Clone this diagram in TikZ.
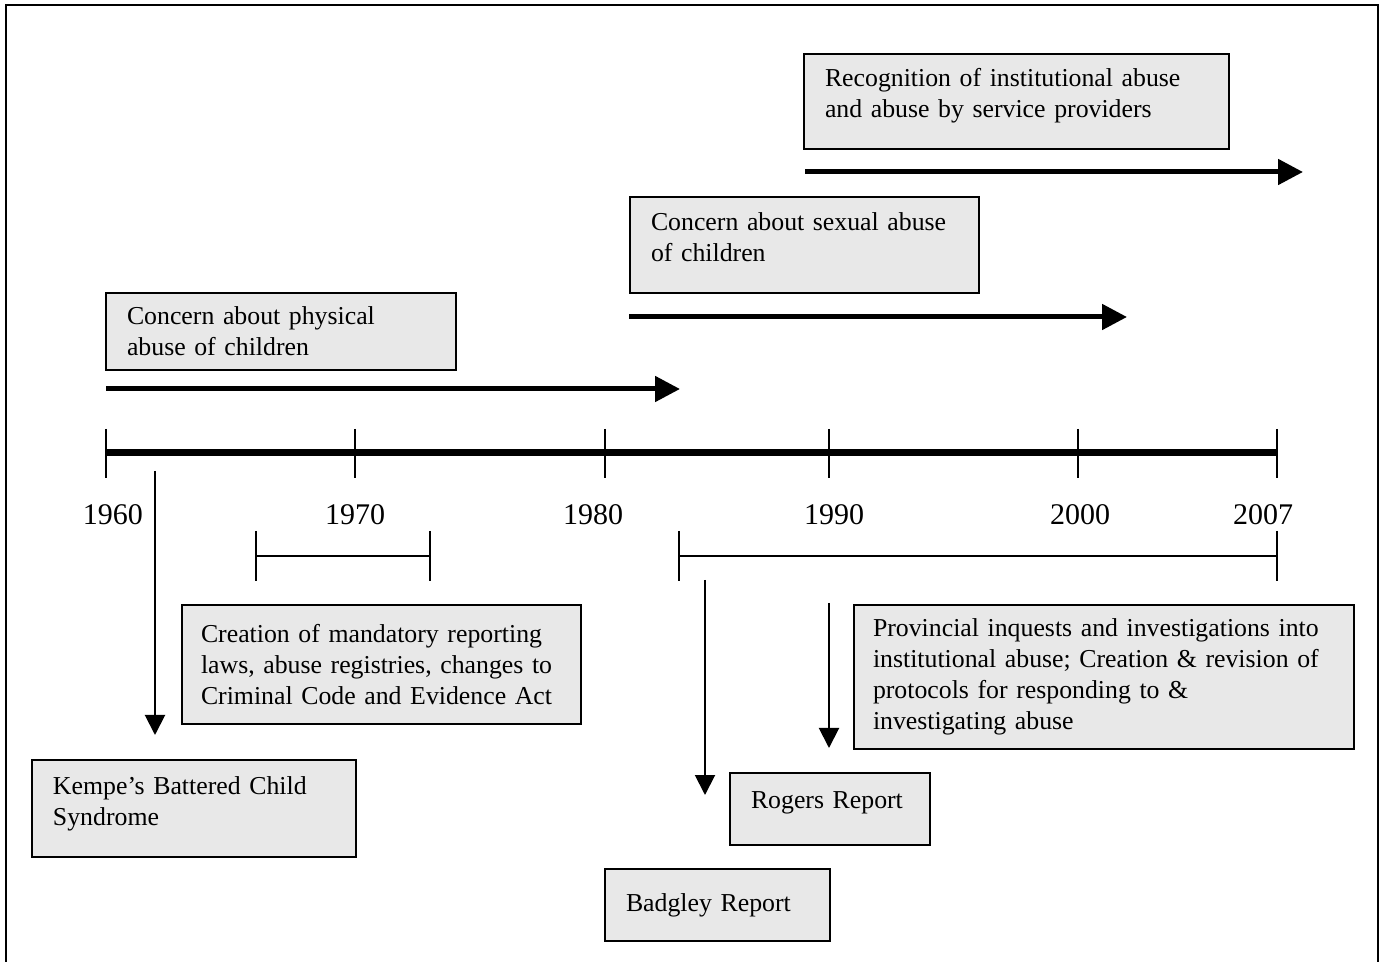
\documentclass[tikz,border=0pt]{standalone}
\usepackage{fontspec}
\setmainfont{Liberation Serif}
\usepackage{xcolor}
\usepackage{tikz}
\usetikzlibrary{arrows.meta, positioning}
\definecolor{boxgray}{RGB}{232,232,232}

\begin{document}
\begin{tikzpicture}[
    x=0.5pt, y=-0.5pt,
    box/.style={draw, line width=1pt, fill=boxgray, anchor=north west, align=left, inner xsep=10.5pt, inner ysep=0pt, font=\fontsize{12.9}{15.5}\selectfont},
    year/.style={anchor=base, font=\fontsize{15}{18}\selectfont},
    bigarrow/.style={-{Triangle[length=12.5pt, width=12.5pt]}, line width=2.5pt},
    thinarrow/.style={-{Triangle[length=10pt, width=10pt]}, line width=1pt},
    tickline/.style={line width=1pt},
]
\useasboundingbox (0,0) rectangle (1383,962);

% Frame
\draw[line width=1.3pt] (6,962) -- (6,5) -- (1378,5) -- (1378,962);

% Timeline
\draw[line width=3.5pt] (106,453) -- (1277,453);
\foreach \x/\yr/\lx in {106/1960/113, 355/1970/355, 605/1980/593, 829/1990/834, 1078/2000/1080, 1277/2007/1263} {
  \draw[tickline] (\x,429) -- (\x,478);
  \node[year] (y\yr) at (\lx,525) {\yr};
}

% Periods
\draw[tickline] (256,531) -- (256,581) (256,556) -- (430,556) (430,531) -- (430,581);
\draw[tickline] (679,531) -- (679,581) (679,556) -- (1277,556) (1277,531) -- (1277,581);

% Concerns above the timeline
\node[box, text width=191.5pt, text depth=23.8pt, minimum height=47.5pt] (recog) at (803,53) {Recognition of institutional abuse\\and abuse by service providers};
\node[box, text width=153.5pt, text depth=23pt, minimum height=48pt] (sexual) at (629,196) {Concern about sexual abuse\\of children};
\node[box, text width=154pt, minimum height=38.5pt] (physical) at (105,292) {Concern about physical\\abuse of children};

\coordinate (recogS) at (805,172);  \coordinate (recogE) at (1303,172);
\coordinate (sexualS) at (629,317); \coordinate (sexualE) at (1127,317);
\coordinate (physS) at (106,389);   \coordinate (physE) at (680,389);
\draw[bigarrow] (recogS) -- (recogE);
\draw[bigarrow] (sexualS) -- (sexualE);
\draw[bigarrow] (physS) -- (physE);

% Events below the timeline
\node[box, inner xsep=9.5pt, text width=180.5pt, minimum height=59.5pt] (creation) at (181,604) {Creation of mandatory reporting\\laws, abuse registries, changes to\\Criminal Code and Evidence Act};
\node[box, inner xsep=9.5pt, text width=231pt, minimum height=72pt] (provincial) at (853,604) {Provincial inquests and investigations into\\institutional abuse; Creation \& revision of\\protocols for responding to \&\\investigating abuse};
\node[box, text width=141pt, text depth=22.8pt, minimum height=48.5pt] (kempe) at (31,759) {Kempe’s Battered Child\\Syndrome};
\node[box, text width=79pt, text depth=8.8pt, minimum height=36pt] (rogers) at (729,772) {Rogers Report};
\node[box, text width=91.5pt, minimum height=36pt] (badgley) at (604,868) {Badgley Report};

\coordinate (kempeS) at (155,471);   \coordinate (kempeE) at (155,735);
\coordinate (badgleyS) at (705,580); \coordinate (badgleyE) at (705,795);
\coordinate (rogersS) at (829,603);  \coordinate (rogersE) at (829,748);
\draw[thinarrow] (kempeS) -- (kempeE);
\draw[thinarrow] (badgleyS) -- (badgleyE);
\draw[thinarrow] (rogersS) -- (rogersE);

\end{tikzpicture}
\end{document}
